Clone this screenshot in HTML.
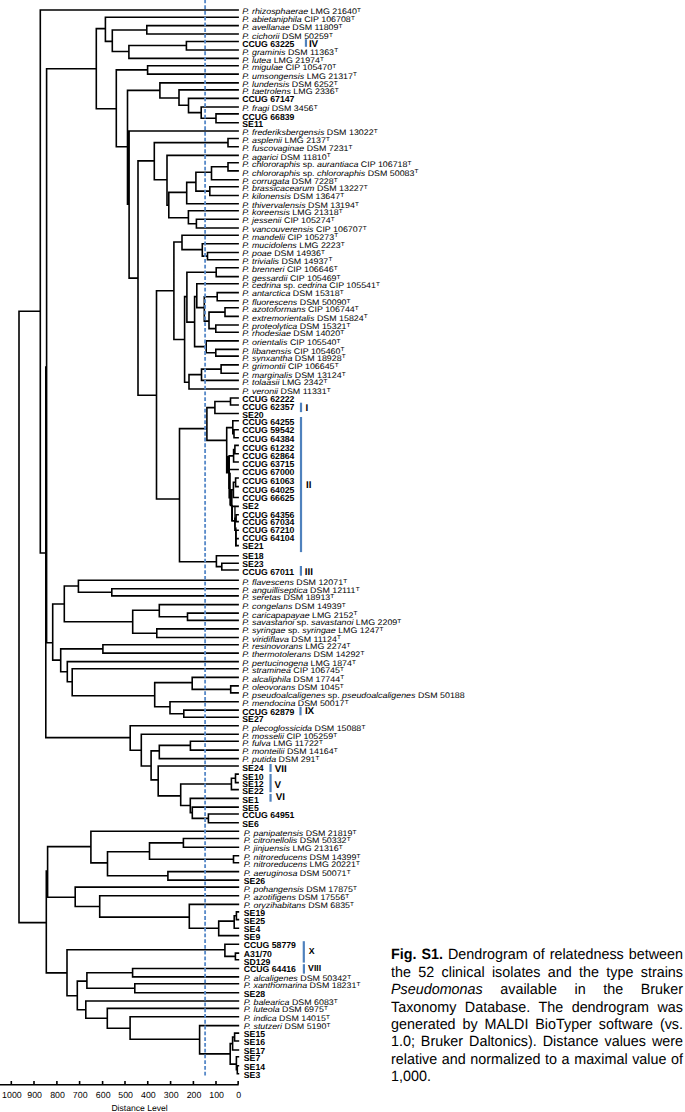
<!DOCTYPE html>
<html><head><meta charset="utf-8"><style>
html,body{margin:0;padding:0;background:#fff;}
*{text-rendering:geometricPrecision;}
body{width:685px;height:1112px;position:relative;overflow:hidden;}
svg{position:absolute;left:0;top:0;}
svg text{font-family:"Liberation Sans",sans-serif;font-size:8.15px;fill:#000;}
.i{font-style:italic;}
svg text.b{font-weight:bold;font-size:8.7px;}
.b{font-weight:bold;}
.s{font-size:5.9px;}
svg text.ax{font-size:8.8px;}
svg text.dl{font-size:8.6px;}
#cap{position:absolute;left:391.4px;top:0;width:303.22px;height:1112px;transform:scaleX(0.9630);transform-origin:0 0;
font-family:"Liberation Sans",sans-serif;font-size:14.9px;line-height:14.9px;color:#000;}
.cl{position:absolute;left:0;width:303.22px;white-space:nowrap;}
.j{text-align:justify;text-align-last:justify;white-space:normal;}
</style></head><body>
<svg width="685" height="1112" viewBox="0 0 685 1112">
<path d="M19 311.3V922.6 M19 311.3H40.3 M40.3 10.07V553 M40.3 10.07H238.1 M40.3 553H45.8 M45.8 367V737.6 M45.8 367H46.6 M46.6 68.7V642.8 M46.6 68.7H96.3 M96.3 28.6V108.7 M96.3 28.6H105.4 M105.4 17.26V41.4 M105.4 17.26H238.1 M105.4 41.4H112.3 M112.3 30V51.5 M112.3 30H146.8 M146.8 25.66V33.98 M146.8 25.66H238.1 M146.8 33.98H238.1 M112.3 51.5H128.9 M128.9 45.5V58.4 M128.9 45.5H186.4 M186.4 41.43V49.93 M186.4 41.43H238.1 M186.4 49.93H238.1 M128.9 58.4H238.1 M96.3 108.7H116.3 M116.3 69.9V146.8 M116.3 69.9H147.6 M147.6 65.8V74.1 M147.6 65.8H238.1 M147.6 74.1H238.1 M116.3 146.8H127.5 M127.5 90.4V204.3 M127.5 90.4H159.9 M159.9 82.9V98 M159.9 82.9H238.1 M159.9 98H179 M179 89.9V105.2 M179 89.9H238.1 M179 105.2H188.5 M188.5 98.4V112.6 M188.5 98.4H238.1 M188.5 112.6H201.2 M201.2 107V118.3 M201.2 107H238.1 M201.2 118.3H216 M216 113.9V122.7 M216 113.9H238.1 M216 122.7H238.1 M127.5 204.3H129.1 M129.1 131V278.1 M129.1 131H238.1 M129.1 278.1H138 M138 160.9V395.3 M138 160.9H154.3 M154.3 142.6V179.7 M154.3 142.6H228 M228 138.5V146.8 M228 138.5H238.1 M228 146.8H238.1 M154.3 179.7H167 M167 155.4V205.3 M167 155.4H238.1 M167 205.3H168.8 M168.8 192.4V217.7 M168.8 192.4H186.7 M186.7 182.4V203.8 M186.7 182.4H195.9 M195.9 172.2V191.1 M195.9 172.2H211.5 M211.5 166.8V179.7 M211.5 166.8H228 M228 162.7V170.9 M228 162.7H238.1 M228 170.9H238.1 M211.5 179.7H238.1 M195.9 191.1H209.8 M209.8 186.7V195.5 M209.8 186.7H238.1 M209.8 195.5H238.1 M186.7 203.8H238.1 M168.8 217.7H188.4 M188.4 210.8V223.8 M188.4 210.8H238.1 M188.4 223.8H196.4 M196.4 219.2V228 M196.4 219.2H238.1 M196.4 228H238.1 M138 395.3H156.5 M156.5 290.7V499 M156.5 290.7H173.9 M173.9 242V339.5 M173.9 242H182 M182 235.3V249.6 M182 235.3H238.1 M182 249.6H202.3 M202.3 243.7V256.1 M202.3 243.7H238.1 M202.3 256.1H207.5 M207.5 252.5V259.7 M207.5 252.5H238.1 M207.5 259.7H238.1 M173.9 339.5H184.6 M184.6 296.6V382.2 M184.6 296.6H186.9 M186.9 272.2V322.1 M186.9 272.2H216.2 M216.2 267.8V276.6 M216.2 267.8H238.1 M216.2 276.6H238.1 M186.9 322.1H194.6 M194.6 296.6V346.6 M194.6 296.6H196.8 M196.8 283.8V307.6 M196.8 283.8H238.1 M196.8 307.6H204.3 M204.3 296.7V321.1 M204.3 296.7H217.2 M217.2 292.6V300.8 M217.2 292.6H238.1 M217.2 300.8H238.1 M204.3 321.1H209 M209 312.1V328.6 M209 312.1H225 M225 307.8V316.4 M225 307.8H238.1 M225 316.4H238.1 M209 328.6H215.8 M215.8 325V332.2 M215.8 325H238.1 M215.8 332.2H238.1 M194.6 346.6H206.2 M206.2 340.9V352.8 M206.2 340.9H238.1 M206.2 352.8H215.8 M215.8 349.4V356.1 M215.8 349.4H238.1 M215.8 356.1H238.1 M184.6 382.2H189 M189 374.6V389 M189 374.6H201.5 M201.5 369.1V380.4 M201.5 369.1H221.1 M221.1 364.9V373.3 M221.1 364.9H238.1 M221.1 373.3H238.1 M201.5 380.4H238.1 M189 389H238.1 M156.5 499H179.5 M179.5 428.6V561.7 M179.5 428.6H206.9 M206.9 407.6V440.4 M206.9 407.6H214.9 M214.9 401.5V413.5 M214.9 401.5H230.5 M230.5 398V405 M230.5 398H238.1 M230.5 405H238.1 M214.9 413.5H238.1 M206.9 440.4H226.7 M226.7 427.6V472.7 M226.7 427.6H232.8 M232.8 420.7V433.8 M232.8 420.7H238.1 M232.8 433.8H234 M234 429.8V437.7 M234 429.8H238.1 M234 437.7H238.1 M226.7 472.7H229.2 M229.2 455.9V497.6 M229.2 455.9H233.6 M233.6 449.6V462 M233.6 449.6H234.9 M234.9 445.4V453.8 M234.9 445.4H238.1 M234.9 453.8H238.1 M233.6 462H238.1 M229.2 469.5H238.1 M229.2 497.6H230.6 M230.6 489.8V505.5 M230.6 489.8H233.4 M233.4 482.3V497.5 M233.4 482.3H235.6 M235.6 478V486.6 M235.6 478H238.1 M235.6 486.6H238.1 M233.4 497.5H238.1 M230.6 505.5H232 M232 506.4V520.9 M232 506.4H238.1 M232 520.9H234.9 M234.9 518.2V530.3 M234.9 518.2H236.1 M236.1 514.8V521.6 M236.1 514.8H238.1 M236.1 521.6H238.1 M234.9 530.3H235.9 M235.9 530.3V545.6 M235.9 530.3H238.1 M235.9 538.6H238.1 M235.9 545.6H238.1 M179.5 561.7H216.4 M216.4 555.8V566.6 M216.4 555.8H238.1 M216.4 566.6H221.8 M221.8 563.2V570 M221.8 563.2H238.1 M221.8 570H238.1 M46.6 642.8H52.7 M52.7 604V660.1 M52.7 604H64.3 M64.3 586V621.8 M64.3 586H78.4 M78.4 580.3V592.3 M78.4 580.3H238.1 M78.4 592.3H111.8 M111.8 588.8V595.9 M111.8 588.8H238.1 M111.8 595.9H238.1 M64.3 621.8H132.7 M132.7 610.3V633.2 M132.7 610.3H159.3 M159.3 604.6V616.7 M159.3 604.6H238.1 M159.3 616.7H187.5 M187.5 613.1V620.4 M187.5 613.1H238.1 M187.5 620.4H238.1 M132.7 633.2H156.8 M156.8 628.9V637.5 M156.8 628.9H238.1 M156.8 637.5H238.1 M52.7 660.1H60.7 M60.7 648.9V671.8 M60.7 648.9H102.9 M102.9 644.8V653.1 M102.9 644.8H238.1 M102.9 653.1H238.1 M60.7 671.8H67.3 M67.3 661.6V681.7 M67.3 661.6H238.1 M67.3 681.7H72.2 M72.2 668.8V695.8 M72.2 668.8H238.1 M72.2 695.8H154.7 M154.7 682.6V706.8 M154.7 682.6H192.2 M192.2 677.4V689.4 M192.2 677.4H238.1 M192.2 689.4H230.7 M230.7 685.9V692.9 M230.7 685.9H238.1 M230.7 692.9H238.1 M154.7 706.8H170 M170 701.7V713.7 M170 701.7H238.1 M170 713.7H183.8 M183.8 710.1V717.3 M183.8 710.1H238.1 M183.8 717.3H238.1 M45.8 737.6H130.2 M130.2 725.8V750.3 M130.2 725.8H238.1 M130.2 750.3H141.3 M141.3 734.2V766 M141.3 734.2H238.1 M141.3 766H151.1 M151.1 750.9V779.9 M151.1 750.9H159.3 M159.3 745.4V758.6 M159.3 745.4H190.4 M190.4 741.3V750.1 M190.4 741.3H238.1 M190.4 750.1H238.1 M159.3 758.6H238.1 M151.1 779.9H158.2 M158.2 766V795.9 M158.2 766H238.1 M158.2 795.9H180.7 M180.7 784V805.5 M180.7 784H231.4 M231.4 778.2V789.6 M231.4 778.2H235.5 M235.5 774.1V782.6 M235.5 774.1H238.1 M235.5 782.6H238.1 M231.4 789.6H238.1 M180.7 805.5H190.3 M190.3 798.4V812.6 M190.3 798.4H238.1 M190.3 812.6H192.3 M192.3 807.1V818.4 M192.3 807.1H238.1 M192.3 818.4H208.4 M208.4 814V822.7 M208.4 814H238.1 M208.4 822.7H238.1 M19 922.6H46.3 M46.3 871.1V972.9 M46.3 871.1H47.6 M47.6 846.6V897.3 M47.6 846.6H90.9 M90.9 831.3V862.9 M90.9 831.3H238.4 M90.9 862.9H107.5 M107.5 851.7V875.8 M107.5 851.7H149.5 M149.5 842.9V859.2 M149.5 842.9H183.4 M183.4 838.5V847.2 M183.4 838.5H238.4 M183.4 847.2H238.4 M149.5 859.2H233.5 M233.5 855.7V862.7 M233.5 855.7H238.4 M233.5 862.7H238.4 M107.5 875.8H167.9 M167.9 871.6V880.1 M167.9 871.6H238.4 M167.9 880.1H238.4 M47.6 897.3H75.2 M75.2 887.1V906.5 M75.2 887.1H238.4 M75.2 906.5H99.7 M99.7 895.7V917.1 M99.7 895.7H238.4 M99.7 917.1H189.3 M189.3 904.4V928.3 M189.3 904.4H238.4 M189.3 928.3H218.7 M218.7 921.1V935.6 M218.7 921.1H234.2 M234.2 915.7V928.3 M234.2 915.7H236.4 M236.4 911.9V919.6 M236.4 911.9H238.4 M236.4 919.6H238.4 M234.2 928.3H238.4 M218.7 935.6H238.4 M46.3 972.9H67 M67 949.7V995.8 M67 949.7H224.9 M224.9 944.3V956.4 M224.9 944.3H238.4 M224.9 956.4H235.4 M235.4 953.1V959.8 M235.4 953.1H238.4 M235.4 959.8H238.4 M67 995.8H77.3 M77.3 981.1V1009.7 M77.3 981.1H86.9 M86.9 972.7V988.3 M86.9 972.7H132.6 M132.6 968.5V976.9 M132.6 968.5H238.4 M132.6 976.9H238.4 M86.9 988.3H134.8 M134.8 983.8V992.8 M134.8 983.8H238.4 M134.8 992.8H238.4 M77.3 1009.7H85.8 M85.8 1001V1018.3 M85.8 1001H238.4 M85.8 1018.3H107.3 M107.3 1008.4V1028.2 M107.3 1008.4H238.4 M107.3 1028.2H130.1 M130.1 1016.8V1039.3 M130.1 1016.8H238.4 M130.1 1039.3H199.6 M199.6 1025.6V1053.9 M199.6 1025.6H238.4 M199.6 1053.9H230.2 M230.2 1043.6V1064.1 M230.2 1043.6H232.6 M232.6 1037V1050 M232.6 1037H234.6 M234.6 1033.1V1041 M234.6 1033.1H238.4 M234.6 1041H238.4 M232.6 1050H238.4 M230.2 1064.1H236.4 M236.4 1056.7V1069.8 M236.4 1056.7H238.4 M236.4 1069.8H237.3 M237.3 1065.7V1073.8 M237.3 1065.7H238.4 M237.3 1073.8H238.4" stroke="#000" stroke-width="1.6" fill="none" stroke-linecap="square"/>
<rect x="226.0" y="455.9" width="3.8" height="16.8"/><rect x="228.2" y="472.7" width="2.6" height="16.3"/><rect x="229.4" y="489.0" width="3.2" height="16.4"/><rect x="231.2" y="505.4" width="1.8" height="15.6"/><rect x="234.3" y="505.8" width="1.3" height="21.6"/><rect x="235.0" y="527.4" width="1.6" height="18.9"/>
<line x1="205.1" y1="0" x2="205.1" y2="1076" stroke="#5a8bc9" stroke-width="1.85" stroke-dasharray="3.8 1.965" stroke-dashoffset="0.55"/>
<text transform="translate(242.3 14.05) scale(1.09 1)"><tspan class="i">P. rhizosphaerae</tspan><tspan class="n"> LMG 21640</tspan><tspan class="s" dx="0.1" dy="-2.1">T</tspan></text>
<text transform="translate(242.3 21.95) scale(1.09 1)"><tspan class="i">P. abietaniphila</tspan><tspan class="n"> CIP 106708</tspan><tspan class="s" dx="0.1" dy="-2.1">T</tspan></text>
<text transform="translate(242.3 30.25) scale(1.09 1)"><tspan class="i">P. avellanae</tspan><tspan class="n"> DSM 11809</tspan><tspan class="s" dx="0.1" dy="-2.1">T</tspan></text>
<text transform="translate(242.3 38.7) scale(1.09 1)"><tspan class="i">P. cichorii</tspan><tspan class="n"> DSM 50259</tspan><tspan class="s" dx="0.1" dy="-2.1">T</tspan></text>
<text class="b" x="242.3" y="46.9"><tspan class="b">CCUG 63225</tspan></text>
<text transform="translate(242.3 54.5) scale(1.09 1)"><tspan class="i">P. graminis</tspan><tspan class="n"> DSM 11363</tspan><tspan class="s" dx="0.1" dy="-2.1">T</tspan></text>
<text transform="translate(242.3 62.8) scale(1.09 1)"><tspan class="i">P. lutea</tspan><tspan class="n"> LMG 21974</tspan><tspan class="s" dx="0.1" dy="-2.1">T</tspan></text>
<text transform="translate(242.3 69.8) scale(1.09 1)"><tspan class="i">P. migulae</tspan><tspan class="n"> CIP 105470</tspan><tspan class="s" dx="0.1" dy="-2.1">T</tspan></text>
<text transform="translate(242.3 78.5) scale(1.09 1)"><tspan class="i">P. umsongensis</tspan><tspan class="n"> LMG 21317</tspan><tspan class="s" dx="0.1" dy="-2.1">T</tspan></text>
<text transform="translate(242.3 87) scale(1.09 1)"><tspan class="i">P. lundensis</tspan><tspan class="n"> DSM 6252</tspan><tspan class="s" dx="0.1" dy="-2.1">T</tspan></text>
<text transform="translate(242.3 94) scale(1.09 1)"><tspan class="i">P. taetrolens</tspan><tspan class="n"> LMG 2336</tspan><tspan class="s" dx="0.1" dy="-2.1">T</tspan></text>
<text class="b" x="242.3" y="102.35"><tspan class="b">CCUG 67147</tspan></text>
<text transform="translate(242.3 111.2) scale(1.09 1)"><tspan class="i">P. fragi</tspan><tspan class="n"> DSM 3456</tspan><tspan class="s" dx="0.1" dy="-2.1">T</tspan></text>
<text class="b" x="242.3" y="119.65"><tspan class="b">CCUG 66839</tspan></text>
<text class="b" x="242.3" y="126.8"><tspan class="b">SE11</tspan></text>
<text transform="translate(242.3 135.3) scale(1.09 1)"><tspan class="i">P. frederiksbergensis</tspan><tspan class="n"> DSM 13022</tspan><tspan class="s" dx="0.1" dy="-2.1">T</tspan></text>
<text transform="translate(242.3 143.15) scale(1.09 1)"><tspan class="i">P. asplenii</tspan><tspan class="n"> LMG 2137</tspan><tspan class="s" dx="0.1" dy="-2.1">T</tspan></text>
<text transform="translate(242.3 151) scale(1.09 1)"><tspan class="i">P. fuscovaginae</tspan><tspan class="n"> DSM 7231</tspan><tspan class="s" dx="0.1" dy="-2.1">T</tspan></text>
<text transform="translate(242.3 159.5) scale(1.09 1)"><tspan class="i">P. agarici</tspan><tspan class="n"> DSM 11810</tspan><tspan class="s" dx="0.1" dy="-2.1">T</tspan></text>
<text transform="translate(242.3 166.8) scale(1.09 1)"><tspan class="i">P. chlororaphis</tspan><tspan class="n"> sp. </tspan><tspan class="i">aurantiaca</tspan><tspan class="n"> CIP 106718</tspan><tspan class="s" dx="0.1" dy="-2.1">T</tspan></text>
<text transform="translate(242.3 175.55) scale(1.09 1)"><tspan class="i">P. chlororaphis</tspan><tspan class="n"> sp. </tspan><tspan class="i">chlororaphis</tspan><tspan class="n"> DSM 50083</tspan><tspan class="s" dx="0.1" dy="-2.1">T</tspan></text>
<text transform="translate(242.3 183.7) scale(1.09 1)"><tspan class="i">P. corrugata</tspan><tspan class="n"> DSM 7228</tspan><tspan class="s" dx="0.1" dy="-2.1">T</tspan></text>
<text transform="translate(242.3 190.9) scale(1.09 1)"><tspan class="i">P. brassicacearum</tspan><tspan class="n"> DSM 13227</tspan><tspan class="s" dx="0.1" dy="-2.1">T</tspan></text>
<text transform="translate(242.3 199.45) scale(1.09 1)"><tspan class="i">P. kilonensis</tspan><tspan class="n"> DSM 13647</tspan><tspan class="s" dx="0.1" dy="-2.1">T</tspan></text>
<text transform="translate(242.3 207.95) scale(1.09 1)"><tspan class="i">P. thivervalensis</tspan><tspan class="n"> DSM 13194</tspan><tspan class="s" dx="0.1" dy="-2.1">T</tspan></text>
<text transform="translate(242.3 215.25) scale(1.09 1)"><tspan class="i">P. koreensis</tspan><tspan class="n"> LMG 21318</tspan><tspan class="s" dx="0.1" dy="-2.1">T</tspan></text>
<text transform="translate(242.3 223.4) scale(1.09 1)"><tspan class="i">P. jessenii</tspan><tspan class="n"> CIP 105274</tspan><tspan class="s" dx="0.1" dy="-2.1">T</tspan></text>
<text transform="translate(242.3 232.25) scale(1.09 1)"><tspan class="i">P. vancouverensis</tspan><tspan class="n"> CIP 106707</tspan><tspan class="s" dx="0.1" dy="-2.1">T</tspan></text>
<text transform="translate(242.3 239.55) scale(1.09 1)"><tspan class="i">P. mandelii</tspan><tspan class="n"> CIP 105273</tspan><tspan class="s" dx="0.1" dy="-2.1">T</tspan></text>
<text transform="translate(242.3 248) scale(1.09 1)"><tspan class="i">P. mucidolens</tspan><tspan class="n"> LMG 2223</tspan><tspan class="s" dx="0.1" dy="-2.1">T</tspan></text>
<text transform="translate(242.3 256.45) scale(1.09 1)"><tspan class="i">P. poae</tspan><tspan class="n"> DSM 14936</tspan><tspan class="s" dx="0.1" dy="-2.1">T</tspan></text>
<text transform="translate(242.3 263.5) scale(1.09 1)"><tspan class="i">P. trivialis</tspan><tspan class="n"> DSM 14937</tspan><tspan class="s" dx="0.1" dy="-2.1">T</tspan></text>
<text transform="translate(242.3 272.25) scale(1.09 1)"><tspan class="i">P. brenneri</tspan><tspan class="n"> CIP 106646</tspan><tspan class="s" dx="0.1" dy="-2.1">T</tspan></text>
<text transform="translate(242.3 280.7) scale(1.09 1)"><tspan class="i">P. gessardii</tspan><tspan class="n"> CIP 105469</tspan><tspan class="s" dx="0.1" dy="-2.1">T</tspan></text>
<text transform="translate(242.3 287.85) scale(1.09 1)"><tspan class="i">P. cedrina</tspan><tspan class="n"> sp. </tspan><tspan class="i">cedrina</tspan><tspan class="n"> CIP 105541</tspan><tspan class="s" dx="0.1" dy="-2.1">T</tspan></text>
<text transform="translate(242.3 296.3) scale(1.09 1)"><tspan class="i">P. antarctica</tspan><tspan class="n"> DSM 15318</tspan><tspan class="s" dx="0.1" dy="-2.1">T</tspan></text>
<text transform="translate(242.3 305.05) scale(1.09 1)"><tspan class="i">P. fluorescens</tspan><tspan class="n"> DSM 50090</tspan><tspan class="s" dx="0.1" dy="-2.1">T</tspan></text>
<text transform="translate(242.3 312.05) scale(1.09 1)"><tspan class="i">P. azotoformans</tspan><tspan class="n"> CIP 106744</tspan><tspan class="s" dx="0.1" dy="-2.1">T</tspan></text>
<text transform="translate(242.3 320.5) scale(1.09 1)"><tspan class="i">P. extremorientalis</tspan><tspan class="n"> DSM 15824</tspan><tspan class="s" dx="0.1" dy="-2.1">T</tspan></text>
<text transform="translate(242.3 329) scale(1.09 1)"><tspan class="i">P. proteolytica</tspan><tspan class="n"> DSM 15321</tspan><tspan class="s" dx="0.1" dy="-2.1">T</tspan></text>
<text transform="translate(242.3 336.45) scale(1.09 1)"><tspan class="i">P. rhodesiae</tspan><tspan class="n"> DSM 14020</tspan><tspan class="s" dx="0.1" dy="-2.1">T</tspan></text>
<text transform="translate(242.3 345.05) scale(1.09 1)"><tspan class="i">P. orientalis</tspan><tspan class="n"> CIP 105540</tspan><tspan class="s" dx="0.1" dy="-2.1">T</tspan></text>
<text transform="translate(242.3 353.5) scale(1.09 1)"><tspan class="i">P. libanensis</tspan><tspan class="n"> CIP 105460</tspan><tspan class="s" dx="0.1" dy="-2.1">T</tspan></text>
<text transform="translate(242.3 360.55) scale(1.09 1)"><tspan class="i">P. synxantha</tspan><tspan class="n"> DSM 18928</tspan><tspan class="s" dx="0.1" dy="-2.1">T</tspan></text>
<text transform="translate(242.3 369.3) scale(1.09 1)"><tspan class="i">P. grimontii</tspan><tspan class="n"> CIP 106645</tspan><tspan class="s" dx="0.1" dy="-2.1">T</tspan></text>
<text transform="translate(242.3 377.75) scale(1.09 1)"><tspan class="i">P. marginalis</tspan><tspan class="n"> DSM 13124</tspan><tspan class="s" dx="0.1" dy="-2.1">T</tspan></text>
<text transform="translate(242.3 384.75) scale(1.09 1)"><tspan class="i">P. tolaasii</tspan><tspan class="n"> LMG 2342</tspan><tspan class="s" dx="0.1" dy="-2.1">T</tspan></text>
<text transform="translate(242.3 393.8) scale(1.09 1)"><tspan class="i">P. veronii</tspan><tspan class="n"> DSM 11331</tspan><tspan class="s" dx="0.1" dy="-2.1">T</tspan></text>
<text class="b" x="242.3" y="401.95"><tspan class="b">CCUG 62222</tspan></text>
<text class="b" x="242.3" y="409.85"><tspan class="b">CCUG 62357</tspan></text>
<text class="b" x="242.3" y="417.85"><tspan class="b">SE20</tspan></text>
<text class="b" x="242.3" y="425.05"><tspan class="b">CCUG 64255</tspan></text>
<text class="b" x="242.3" y="433.45"><tspan class="b">CCUG 59542</tspan></text>
<text class="b" x="242.3" y="441.65"><tspan class="b">CCUG 64384</tspan></text>
<text class="b" x="242.3" y="450.85"><tspan class="b">CCUG 61232</tspan></text>
<text class="b" x="242.3" y="459.3"><tspan class="b">CCUG 62864</tspan></text>
<text class="b" x="242.3" y="467.45"><tspan class="b">CCUG 63715</tspan></text>
<text class="b" x="242.3" y="475.05"><tspan class="b">CCUG 67000</tspan></text>
<text class="b" x="242.3" y="484.4"><tspan class="b">CCUG 61063</tspan></text>
<text class="b" x="242.3" y="492.55"><tspan class="b">CCUG 64025</tspan></text>
<text class="b" x="242.3" y="500.75"><tspan class="b">CCUG 66625</tspan></text>
<text class="b" x="242.3" y="509.35"><tspan class="b">SE2</tspan></text>
<text class="b" x="242.3" y="517.5"><tspan class="b">CCUG 64356</tspan></text>
<text class="b" x="242.3" y="524.5"><tspan class="b">CCUG 67034</tspan></text>
<text class="b" x="242.3" y="532.95"><tspan class="b">CCUG 67210</tspan></text>
<text class="b" x="242.3" y="541.15"><tspan class="b">CCUG 64104</tspan></text>
<text class="b" x="242.3" y="549.05"><tspan class="b">SE21</tspan></text>
<text class="b" x="242.3" y="559"><tspan class="b">SE18</tspan></text>
<text class="b" x="242.3" y="567"><tspan class="b">SE23</tspan></text>
<text class="b" x="242.3" y="575.45"><tspan class="b">CCUG 67011</tspan></text>
<text transform="translate(242.3 584.7) scale(1.09 1)"><tspan class="i">P. flavescens</tspan><tspan class="n"> DSM 12071</tspan><tspan class="s" dx="0.1" dy="-2.1">T</tspan></text>
<text transform="translate(242.3 592.85) scale(1.09 1)"><tspan class="i">P. anguilliseptica</tspan><tspan class="n"> DSM 12111</tspan><tspan class="s" dx="0.1" dy="-2.1">T</tspan></text>
<text transform="translate(242.3 600.1) scale(1.09 1)"><tspan class="i">P. seretas</tspan><tspan class="n"> DSM 18913</tspan><tspan class="s" dx="0.1" dy="-2.1">T</tspan></text>
<text transform="translate(242.3 608.8) scale(1.09 1)"><tspan class="i">P. congelans</tspan><tspan class="n"> DSM 14939</tspan><tspan class="s" dx="0.1" dy="-2.1">T</tspan></text>
<text transform="translate(242.3 617.5) scale(1.09 1)"><tspan class="i">P. caricapapayae</tspan><tspan class="n"> LMG 2152</tspan><tspan class="s" dx="0.1" dy="-2.1">T</tspan></text>
<text transform="translate(242.3 624.8) scale(1.09 1)"><tspan class="i">P. savastanoi</tspan><tspan class="n"> sp. </tspan><tspan class="i">savastanoi</tspan><tspan class="n"> LMG 2209</tspan><tspan class="s" dx="0.1" dy="-2.1">T</tspan></text>
<text transform="translate(242.3 633.25) scale(1.09 1)"><tspan class="i">P. syringae</tspan><tspan class="n"> sp. </tspan><tspan class="i">syringae</tspan><tspan class="n"> LMG 1247</tspan><tspan class="s" dx="0.1" dy="-2.1">T</tspan></text>
<text transform="translate(242.3 641.55) scale(1.09 1)"><tspan class="i">P. viridiflava</tspan><tspan class="n"> DSM 11124</tspan><tspan class="s" dx="0.1" dy="-2.1">T</tspan></text>
<text transform="translate(242.3 648.85) scale(1.09 1)"><tspan class="i">P. resinovorans</tspan><tspan class="n"> LMG 2274</tspan><tspan class="s" dx="0.1" dy="-2.1">T</tspan></text>
<text transform="translate(242.3 657.2) scale(1.09 1)"><tspan class="i">P. thermotolerans</tspan><tspan class="n"> DSM 14292</tspan><tspan class="s" dx="0.1" dy="-2.1">T</tspan></text>
<text transform="translate(242.3 665.7) scale(1.09 1)"><tspan class="i">P. pertucinogena</tspan><tspan class="n"> LMG 1874</tspan><tspan class="s" dx="0.1" dy="-2.1">T</tspan></text>
<text transform="translate(242.3 673.1) scale(1.09 1)"><tspan class="i">P. straminea</tspan><tspan class="n"> CIP 106745</tspan><tspan class="s" dx="0.1" dy="-2.1">T</tspan></text>
<text transform="translate(242.3 681.5) scale(1.09 1)"><tspan class="i">P. alcaliphila</tspan><tspan class="n"> DSM 17744</tspan><tspan class="s" dx="0.1" dy="-2.1">T</tspan></text>
<text transform="translate(242.3 689.7) scale(1.09 1)"><tspan class="i">P. oleovorans</tspan><tspan class="n"> DSM 1045</tspan><tspan class="s" dx="0.1" dy="-2.1">T</tspan></text>
<text transform="translate(242.3 697.9) scale(1.09 1)"><tspan class="i">P. pseudoalcaligenes</tspan><tspan class="n"> sp. </tspan><tspan class="i">pseudoalcaligenes</tspan><tspan class="n"> DSM 50188</tspan></text>
<text transform="translate(242.3 706.1) scale(1.09 1)"><tspan class="i">P. mendocina</tspan><tspan class="n"> DSM 50017</tspan><tspan class="s" dx="0.1" dy="-2.1">T</tspan></text>
<text class="b" x="242.3" y="714.5"><tspan class="b">CCUG 62879</tspan></text>
<text class="b" x="242.3" y="722.4"><tspan class="b">SE27</tspan></text>
<text transform="translate(242.3 730.6) scale(1.09 1)"><tspan class="i">P. plecoglossicida</tspan><tspan class="n"> DSM 15088</tspan><tspan class="s" dx="0.1" dy="-2.1">T</tspan></text>
<text transform="translate(242.3 738.75) scale(1.09 1)"><tspan class="i">P. mosselii</tspan><tspan class="n"> CIP 105259</tspan><tspan class="s" dx="0.1" dy="-2.1">T</tspan></text>
<text transform="translate(242.3 745.75) scale(1.09 1)"><tspan class="i">P. fulva</tspan><tspan class="n"> LMG 11722</tspan><tspan class="s" dx="0.1" dy="-2.1">T</tspan></text>
<text transform="translate(242.3 754.2) scale(1.09 1)"><tspan class="i">P. monteilii</tspan><tspan class="n"> DSM 14164</tspan><tspan class="s" dx="0.1" dy="-2.1">T</tspan></text>
<text transform="translate(242.3 762.4) scale(1.09 1)"><tspan class="i">P. putida</tspan><tspan class="n"> DSM 291</tspan><tspan class="s" dx="0.1" dy="-2.1">T</tspan></text>
<text class="b" x="242.3" y="770.55"><tspan class="b">SE24</tspan></text>
<text class="b" x="242.3" y="779.7"><tspan class="b">SE10</tspan></text>
<text class="b" x="242.3" y="786.85"><tspan class="b">SE12</tspan></text>
<text class="b" x="242.3" y="794.15"><tspan class="b">SE22</tspan></text>
<text class="b" x="242.3" y="802.5"><tspan class="b">SE1</tspan></text>
<text class="b" x="242.3" y="810.8"><tspan class="b">SE5</tspan></text>
<text class="b" x="242.3" y="818.4"><tspan class="b">CCUG 64951</tspan></text>
<text class="b" x="242.3" y="826.95"><tspan class="b">SE6</tspan></text>
<text transform="translate(243.8 835.8) scale(1.09 1)"><tspan class="i">P. panipatensis</tspan><tspan class="n"> DSM 21819</tspan><tspan class="s" dx="0.1" dy="-2.1">T</tspan></text>
<text transform="translate(243.8 842.95) scale(1.09 1)"><tspan class="i">P. citronellolis</tspan><tspan class="n"> DSM 50332</tspan><tspan class="s" dx="0.1" dy="-2.1">T</tspan></text>
<text transform="translate(243.8 851.4) scale(1.09 1)"><tspan class="i">P. jinjuensis</tspan><tspan class="n"> LMG 21316</tspan><tspan class="s" dx="0.1" dy="-2.1">T</tspan></text>
<text transform="translate(243.8 859.9) scale(1.09 1)"><tspan class="i">P. nitroreducens</tspan><tspan class="n"> DSM 14399</tspan><tspan class="s" dx="0.1" dy="-2.1">T</tspan></text>
<text transform="translate(243.8 867.05) scale(1.09 1)"><tspan class="i">P. nitroreducens</tspan><tspan class="n"> LMG 20221</tspan><tspan class="s" dx="0.1" dy="-2.1">T</tspan></text>
<text transform="translate(243.8 875.65) scale(1.09 1)"><tspan class="i">P. aeruginosa</tspan><tspan class="n"> DSM 50071</tspan><tspan class="s" dx="0.1" dy="-2.1">T</tspan></text>
<text class="b" x="243.8" y="884.05"><tspan class="b">SE26</tspan></text>
<text transform="translate(243.8 891.8) scale(1.09 1)"><tspan class="i">P. pohangensis</tspan><tspan class="n"> DSM 17875</tspan><tspan class="s" dx="0.1" dy="-2.1">T</tspan></text>
<text transform="translate(243.8 900.3) scale(1.09 1)"><tspan class="i">P. azotifigens</tspan><tspan class="n"> DSM 17556</tspan><tspan class="s" dx="0.1" dy="-2.1">T</tspan></text>
<text transform="translate(243.8 908.1) scale(1.09 1)"><tspan class="i">P. oryzihabitans</tspan><tspan class="n"> DSM 6835</tspan><tspan class="s" dx="0.1" dy="-2.1">T</tspan></text>
<text class="b" x="243.8" y="915.9"><tspan class="b">SE19</tspan></text>
<text class="b" x="243.8" y="924.05"><tspan class="b">SE25</tspan></text>
<text class="b" x="243.8" y="932.4"><tspan class="b">SE4</tspan></text>
<text class="b" x="243.8" y="939.65"><tspan class="b">SE9</tspan></text>
<text class="b" x="243.8" y="947.85"><tspan class="b">CCUG 58779</tspan></text>
<text class="b" x="243.8" y="956.9"><tspan class="b">A31/70</tspan></text>
<text class="b" x="243.8" y="965.05"><tspan class="b">SD129</tspan></text>
<text class="b" x="243.8" y="972.35"><tspan class="b">CCUG 64416</tspan></text>
<text transform="translate(243.8 981) scale(1.09 1)"><tspan class="i">P. alcaligenes</tspan><tspan class="n"> DSM 50342</tspan><tspan class="s" dx="0.1" dy="-2.1">T</tspan></text>
<text transform="translate(243.8 988.15) scale(1.09 1)"><tspan class="i">P. xanthomarina</tspan><tspan class="n"> DSM 18231</tspan><tspan class="s" dx="0.1" dy="-2.1">T</tspan></text>
<text class="b" x="243.8" y="996.85"><tspan class="b">SE28</tspan></text>
<text transform="translate(243.8 1005.15) scale(1.09 1)"><tspan class="i">P. balearica</tspan><tspan class="n"> DSM 6083</tspan><tspan class="s" dx="0.1" dy="-2.1">T</tspan></text>
<text transform="translate(243.8 1012.45) scale(1.09 1)"><tspan class="i">P. luteola</tspan><tspan class="n"> DSM 6975</tspan><tspan class="s" dx="0.1" dy="-2.1">T</tspan></text>
<text transform="translate(243.8 1021.25) scale(1.09 1)"><tspan class="i">P. indica</tspan><tspan class="n"> DSM 14015</tspan><tspan class="s" dx="0.1" dy="-2.1">T</tspan></text>
<text transform="translate(243.8 1029.4) scale(1.09 1)"><tspan class="i">P. stutzeri</tspan><tspan class="n"> DSM 5190</tspan><tspan class="s" dx="0.1" dy="-2.1">T</tspan></text>
<text class="b" x="243.8" y="1037.4"><tspan class="b">SE15</tspan></text>
<text class="b" x="243.8" y="1045.15"><tspan class="b">SE16</tspan></text>
<text class="b" x="243.8" y="1054.05"><tspan class="b">SE17</tspan></text>
<text class="b" x="243.8" y="1061.35"><tspan class="b">SE7</tspan></text>
<text class="b" x="243.8" y="1069.65"><tspan class="b">SE14</tspan></text>
<text class="b" x="243.8" y="1077.65"><tspan class="b">SE3</tspan></text>
<rect x="304.85" y="39.2" width="2.2" height="7.6" fill="#4f81bd"/>
<text class="b" x="308.9" y="46.7" style="font-size:9.8px">IV</text>
<rect x="299.9" y="402.7" width="2.2" height="9.4" fill="#4f81bd"/>
<text class="b" x="305.4" y="410.7" style="font-size:9.8px">I</text>
<rect x="299.9" y="417" width="2.2" height="135.1" fill="#4f81bd"/>
<text class="b" x="306" y="487.5" style="font-size:9.8px">II</text>
<rect x="299.8" y="566" width="2.2" height="9.7" fill="#4f81bd"/>
<text class="b" x="304.7" y="574.7" style="font-size:9.8px">III</text>
<rect x="299.4" y="706.9" width="2.2" height="8.4" fill="#4f81bd"/>
<text class="b" x="304.9" y="713.9" style="font-size:9.8px">IX</text>
<rect x="269.45" y="764" width="2.2" height="7.9" fill="#4f81bd"/>
<text class="b" x="274.8" y="771.6" style="font-size:9.8px">VII</text>
<rect x="269.45" y="774" width="2.2" height="18.2" fill="#4f81bd"/>
<text class="b" x="274.6" y="787.6" style="font-size:9.8px">V</text>
<rect x="269.45" y="794" width="2.2" height="7.7" fill="#4f81bd"/>
<text class="b" x="275.8" y="800.4" style="font-size:9.8px">VI</text>
<rect x="302.7" y="941.2" width="2.2" height="21.4" fill="#4f81bd"/>
<text class="b" x="308.7" y="953.6" style="font-size:8.7px">X</text>
<rect x="302.8" y="964.2" width="2.2" height="9.4" fill="#4f81bd"/>
<text class="b" x="308.1" y="970.6" style="font-size:8.7px">VIII</text>
<path d="M0 1084.8H238.7 M238.15 1081.1V1084.6 M216 1081.1V1084.6 M193.4 1081.1V1084.6 M170.6 1081.1V1084.6 M147.75 1081.1V1084.6 M125 1081.1V1084.6 M102.6 1081.1V1084.6 M79.6 1081.1V1084.6 M56.9 1081.1V1084.6 M34 1081.1V1084.6 M11.3 1081.1V1084.6" stroke="#000" stroke-width="1.6" fill="none"/>
<text class="ax" text-anchor="middle" x="238.75" y="1097.6">0</text>
<text class="ax" text-anchor="middle" x="216.6" y="1097.6">100</text>
<text class="ax" text-anchor="middle" x="194" y="1097.6">200</text>
<text class="ax" text-anchor="middle" x="171.2" y="1097.6">300</text>
<text class="ax" text-anchor="middle" x="148.35" y="1097.6">400</text>
<text class="ax" text-anchor="middle" x="125.6" y="1097.6">500</text>
<text class="ax" text-anchor="middle" x="103.2" y="1097.6">600</text>
<text class="ax" text-anchor="middle" x="80.2" y="1097.6">700</text>
<text class="ax" text-anchor="middle" x="57.5" y="1097.6">800</text>
<text class="ax" text-anchor="middle" x="34.6" y="1097.6">900</text>
<text class="ax" text-anchor="middle" x="11.9" y="1097.6">1000</text>
<text class="dl" x="111.4" y="1111.3">Distance Level</text>
</svg>
<div id="cap"><div class="cl j" style="top:948.34px"><b>Fig. S1.</b> Dendrogram of relatedness between</div><div class="cl j" style="top:965.75px">the 52 clinical isolates and the type strains</div><div class="cl j" style="top:983.16px"><i>Pseudomonas</i> available in the Bruker</div><div class="cl j" style="top:1000.57px">Taxonomy Database. The dendrogram was</div><div class="cl j" style="top:1017.98px">generated by MALDI BioTyper software (vs.</div><div class="cl j" style="top:1035.39px">1.0; Bruker Daltonics). Distance values were</div><div class="cl j" style="top:1052.8px">relative and normalized to a maximal value of</div><div class="cl" style="top:1070.21px">1,000.</div></div>
</body></html>
